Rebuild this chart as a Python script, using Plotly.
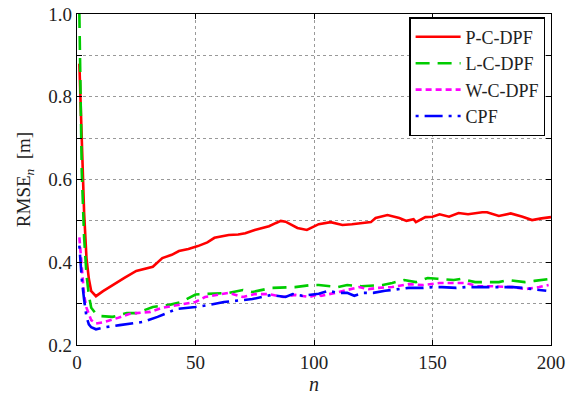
import plotly.graph_objects as go

# P-C-DPF (red, solid)
n_p = [1, 2, 3, 4, 5, 6, 8, 11, 15, 20, 25, 29, 32, 36, 40, 43, 47, 51, 55, 58, 64, 68, 71, 75, 78, 81, 84, 86, 88, 91, 93, 97, 99, 102, 107, 112, 116, 119, 124, 126, 131, 136, 139, 142, 143, 147, 150, 153, 157, 161, 165, 171, 173, 178, 183, 188, 192, 196, 200]
rmse_p = [0.88, 0.70, 0.52, 0.41, 0.36, 0.33, 0.318, 0.33, 0.345, 0.362, 0.379, 0.385, 0.389, 0.41, 0.418, 0.427, 0.432, 0.439, 0.448, 0.459, 0.466, 0.467, 0.47, 0.478, 0.482, 0.487, 0.495, 0.5, 0.498, 0.49, 0.483, 0.478, 0.484, 0.492, 0.497, 0.49, 0.492, 0.494, 0.497, 0.507, 0.514, 0.507, 0.5, 0.504, 0.497, 0.509, 0.51, 0.516, 0.51, 0.519, 0.516, 0.521, 0.521, 0.512, 0.518, 0.51, 0.502, 0.506, 0.509]

# L-C-DPF (green, dashed)
n_l = [1, 2, 3, 4, 5, 6, 8, 10, 15, 21, 25, 32, 39, 44, 50, 55, 64, 70, 74, 82, 92, 99, 102, 110, 114, 120, 129, 133, 138, 143, 148, 152, 159, 162, 168, 172, 178, 182, 189, 193, 200]
rmse_l = [1.0, 0.62, 0.46, 0.37, 0.32, 0.29, 0.275, 0.27, 0.268, 0.277, 0.277, 0.292, 0.297, 0.304, 0.322, 0.323, 0.326, 0.333, 0.328, 0.338, 0.34, 0.345, 0.345, 0.34, 0.345, 0.342, 0.345, 0.35, 0.357, 0.352, 0.362, 0.36, 0.357, 0.36, 0.352, 0.352, 0.352, 0.357, 0.352, 0.355, 0.36]

# W-C-DPF (magenta, short dashes)
n_w = [1, 2, 3, 4, 6, 8, 11, 17, 22, 25, 31, 36, 44, 50, 54, 60, 64, 70, 75, 81, 87, 92, 98, 102, 103, 109, 113, 119, 123, 127, 133, 140, 146, 150, 153, 160, 164, 169, 175, 184, 189, 195, 199]
rmse_w = [0.46, 0.38, 0.32, 0.29, 0.26, 0.252, 0.255, 0.265, 0.275, 0.277, 0.28, 0.29, 0.297, 0.304, 0.316, 0.323, 0.326, 0.316, 0.323, 0.323, 0.316, 0.321, 0.316, 0.323, 0.319, 0.326, 0.331, 0.34, 0.335, 0.338, 0.34, 0.347, 0.345, 0.347, 0.35, 0.35, 0.35, 0.342, 0.342, 0.34, 0.335, 0.34, 0.345]

# CPF (blue, dash-dot)
n_c = [1, 2, 3, 4, 5, 6, 8, 12, 18, 24, 28, 34, 38, 42, 50, 56, 62, 70, 74, 78, 82, 88, 91, 95, 100, 102, 106, 110, 114, 117, 121, 125, 130, 135, 140, 146, 150, 154, 160, 164, 169, 175, 179, 184, 188, 193, 198]
rmse_c = [0.44, 0.36, 0.31, 0.268, 0.25, 0.243, 0.238, 0.243, 0.248, 0.253, 0.256, 0.268, 0.277, 0.287, 0.292, 0.297, 0.304, 0.309, 0.311, 0.316, 0.321, 0.316, 0.323, 0.319, 0.323, 0.324, 0.331, 0.326, 0.326, 0.319, 0.326, 0.326, 0.331, 0.335, 0.338, 0.338, 0.34, 0.34, 0.338, 0.34, 0.34, 0.34, 0.34, 0.34, 0.338, 0.335, 0.331]

y_ticks = [0.2, 0.4, 0.6, 0.8, 1.0]
y_labels = ["0.2", "0.4", "0.6", "0.8", "1.0"]
x_ticks = [0, 50, 100, 150, 200]

FONT = "Liberation Serif"
TXT = "#222222"

fig = go.Figure()
fig.add_trace(go.Scatter(x=n_p, y=rmse_p, mode="lines", name="P-C-DPF",
                         line=dict(color="#ff0000", width=2.6, dash="solid")))
fig.add_trace(go.Scatter(x=n_l, y=rmse_l, mode="lines", name="L-C-DPF",
                         line=dict(color="#00cc00", width=2.6, dash="14px,8px")))
fig.add_trace(go.Scatter(x=n_w, y=rmse_w, mode="lines", name="W-C-DPF",
                         line=dict(color="#ff00ff", width=2.6, dash="6px,4px")))
fig.add_trace(go.Scatter(x=n_c, y=rmse_c, mode="lines", name="CPF",
                         line=dict(color="#0000ff", width=2.6, dash="3px,6px,18px,6px")))

axis_common = dict(
    showline=True, linecolor="black", linewidth=1.3, mirror="ticks",
    ticks="inside", ticklen=5, tickcolor="black", tickwidth=1,
    showgrid=True, gridcolor="#999999", griddash="dot", gridwidth=1,
    zeroline=False, automargin=False,
    tickfont=dict(family=FONT, size=19, color=TXT),
)

fig.update_xaxes(range=[0, 200], tickvals=x_ticks, **axis_common,
                 title=dict(text="<i>n</i>", font=dict(family=FONT, size=20, color=TXT), standoff=4))
fig.update_yaxes(range=[0.2, 1.0], tickvals=y_ticks, ticktext=y_labels, **axis_common,
                 minor=dict(tickvals=[0.3, 0.5, 0.7, 0.9], showgrid=True, gridcolor="#999999",
                            griddash="dot", gridwidth=1, ticks="inside", ticklen=5, tickcolor="black"),
                 title=dict(text="RMSE<sub><i>n</i></sub>  [m]", font=dict(family=FONT, size=19, color=TXT), standoff=12))

fig.update_layout(
    width=569, height=395,
    margin=dict(l=77, r=18, t=14, b=50),
    paper_bgcolor="white", plot_bgcolor="white",
    showlegend=True,
    font=dict(family=FONT),
    legend=dict(x=0.988, y=0.99, xanchor="right", yanchor="top",
                bgcolor="white", bordercolor="black", borderwidth=1.3,
                font=dict(family=FONT, size=18, color=TXT),
                tracegroupgap=0, itemwidth=45),
)

fig.write_html("out.html")
